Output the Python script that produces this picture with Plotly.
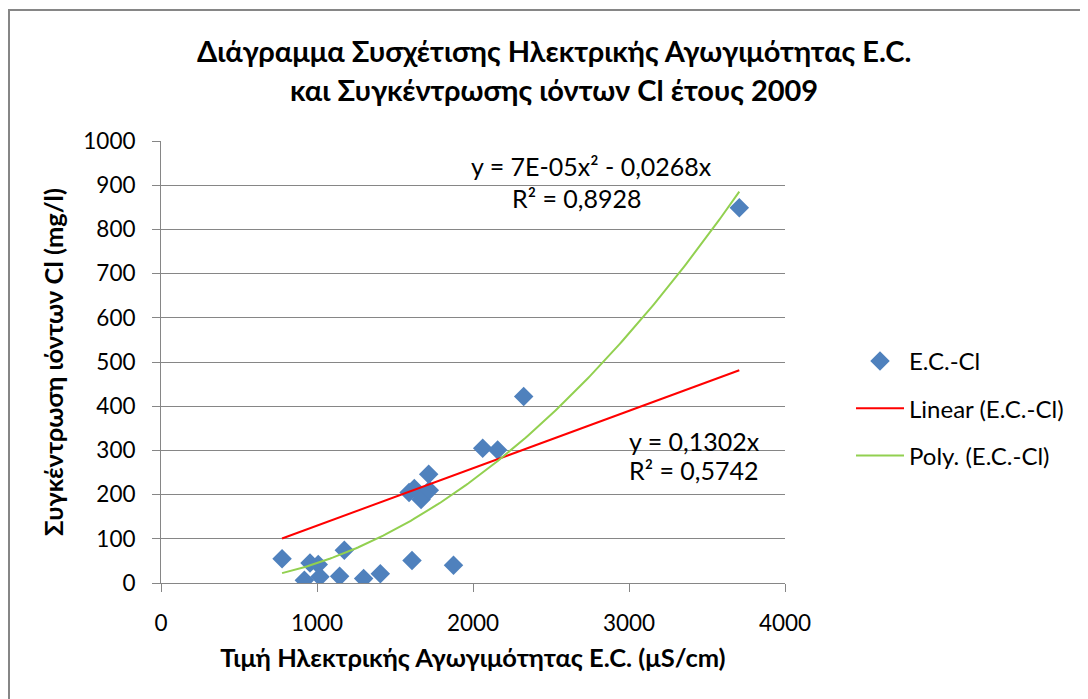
import numpy as np
import plotly.graph_objects as go

# Data
ec = [776, 919, 955, 1008, 1019, 1145, 1175, 1299, 1406, 1609, 1875,
      1590, 1624, 1667, 1720, 1716, 2062, 2158, 2325, 3707]
cl = [55, 6, 45, 42, 14, 15, 74, 10, 21, 51, 40,
      205, 214, 189, 210, 246, 305, 301, 422, 849]

series_name = "E.C.-Cl"
title_lines = ["Διάγραμμα Συσχέτισης Ηλεκτρικής Αγωγιμότητας E.C.",
               "και Συγκέντρωσης ιόντων Cl έτους 2009"]
x_title = "Τιμή Ηλεκτρικής Αγωγιμότητας E.C. (μS/cm)"
y_title = "Συγκέντρωση ιόντων Cl (mg/l)"
lin_label = ["y = 0,1302x", "R² = 0,5742"]
poly_label = ["y = 7E-05x² - 0,0268x", "R² = 0,8928"]

x = np.array(ec, dtype=float)
y = np.array(cl, dtype=float)

# Trendlines through the origin (least squares fit of the data)
slope = (x * y).sum() / (x * x).sum()
A = np.vstack([x ** 2, x]).T
coef, *_ = np.linalg.lstsq(A, y, rcond=None)
xs = np.linspace(x.min(), x.max(), 200)
lin_y = slope * xs
poly_y = coef[0] * xs ** 2 + coef[1] * xs

FONT = "Lato, 'Noto Sans', sans-serif"
OX, OY = 7, 8          # page offset of the figure inside the browser
W, H = 1088, 699
L, R, T, B = 160 - OX, 1088 - (784 - OX), 141 - OY, 699 - (583 - OY)
pw, ph = W - L - R, H - T - B


def px2x(p):
    return (p - OX - L) / pw


def py2y(p):
    return (H - B - (p - OY)) / ph


fig = go.Figure()
fig.add_trace(go.Scatter(x=ec, y=cl, mode="markers", name=series_name,
                         legendgroup="a",
                         marker=dict(symbol="diamond", size=15, color="#4F81BD",
                                     line=dict(width=0))))
fig.add_trace(go.Scatter(x=xs, y=lin_y, mode="lines", name="Linear (E.C.-Cl)",
                         legendgroup="b",
                         line=dict(color="#FF0000", width=2)))
fig.add_trace(go.Scatter(x=xs, y=poly_y, mode="lines", name="Poly. (E.C.-Cl)",
                         legendgroup="c",
                         line=dict(color="#92D050", width=2)))

annos = [
    dict(text="<b>" + title_lines[0] + "</b>", x=px2x(553), y=py2y(50)),
    dict(text="<b>" + title_lines[1] + "</b>", x=px2x(553), y=py2y(90)),
]
for a in annos:
    a.update(xref="paper", yref="paper", showarrow=False,
             font=dict(family=FONT, size=29, color="#000000"),
             xanchor="center", yanchor="middle")

labels = [
    (poly_label[0], 590, 166), (poly_label[1], 576, 198),
    (lin_label[0], 693, 441), (lin_label[1], 693, 470),
]
for txt, px, py in labels:
    annos.append(dict(text=txt, x=px2x(px), y=py2y(py), xref="paper", yref="paper",
                      showarrow=False, xanchor="center", yanchor="middle",
                      font=dict(family=FONT, size=25, color="#000000")))

fig.update_layout(
    width=W, height=H,
    margin=dict(l=L, r=R, t=T, b=B, autoexpand=False),
    paper_bgcolor="white", plot_bgcolor="white",
    font=dict(family=FONT, size=23, color="#000000"),
    showlegend=True,
    legend=dict(x=px2x(850), y=py2y(339), xanchor="left", yanchor="top",
                font=dict(family=FONT, size=24), tracegroupgap=13,
                bgcolor="rgba(0,0,0,0)", itemwidth=48),
    annotations=annos,
    shapes=[dict(type="rect", xref="paper", yref="paper",
                 x0=px2x(8), x1=px2x(1250), y0=py2y(850), y1=py2y(10),
                 line=dict(color="#868686", width=2), fillcolor="rgba(0,0,0,0)",
                 layer="below")],
)
fig.update_xaxes(range=[0, 4000], dtick=1000, showgrid=False, zeroline=False,
                 showline=True, linecolor="#868686", linewidth=1,
                 ticks="outside", ticklen=8, tickcolor="#868686",
                 ticklabelstandoff=12,
                 tickfont=dict(family=FONT, size=22.5),
                 title=dict(text="<b>" + x_title + "</b>", standoff=14,
                            font=dict(family=FONT, size=25.5)))
fig.update_yaxes(range=[0, 1000], dtick=100, showgrid=True, gridcolor="#868686",
                 gridwidth=1, zeroline=False,
                 showline=True, linecolor="#868686", linewidth=1,
                 ticks="outside", ticklen=8, tickcolor="#868686",
                 ticklabelstandoff=12,
                 tickfont=dict(family=FONT, size=22.5),
                 title=dict(text="<b>" + y_title + "</b>", standoff=12,
                            font=dict(family=FONT, size=25.5)))

fig.write_html("out.html")
